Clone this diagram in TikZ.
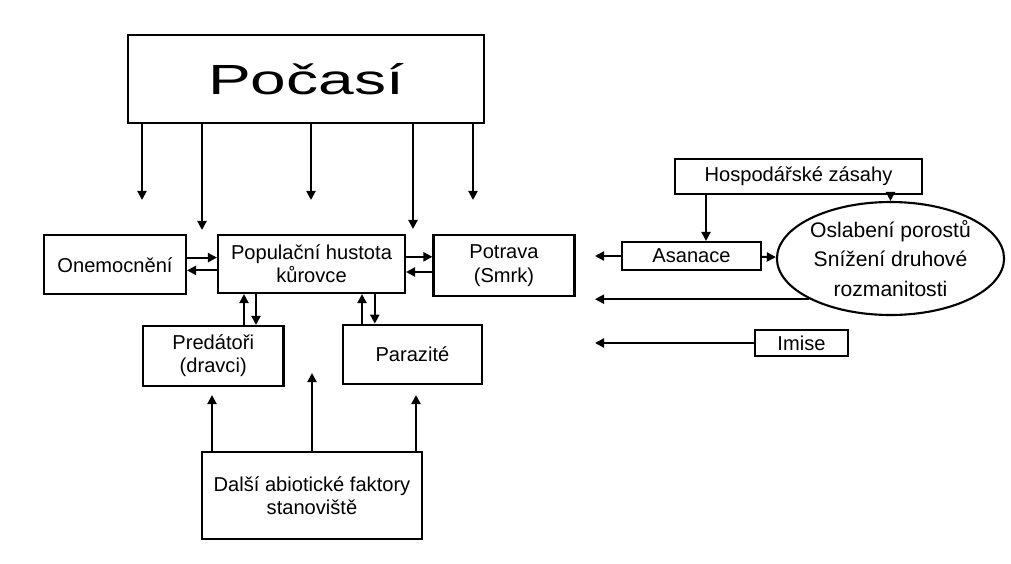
\documentclass[tikz,border=0pt]{standalone}
\usepackage{fontspec}
\setmainfont{Liberation Sans}
\usepackage{graphicx}
\usetikzlibrary{arrows.meta, positioning, calc, shapes.geometric}
\tikzset{
    % Base Block Style
    factor/.style={
        rectangle,
        draw=black,
        line width=1.5pt,
        align=center,
        inner sep=1pt,
        font=\fontsize{14.3}{16.5}\selectfont
    },
    % Ellipse Style
    effect/.style={
        ellipse,
        draw=black,
        line width=1.5pt,
        align=center,
        inner sep=0pt,
        font=\fontsize{15}{21}\selectfont
    },
    % Arrow Style
    arrow/.style={-{Triangle[length=6.5pt,width=6.5pt]}, line width=1.5pt}
}
\begin{document}
\begin{tikzpicture}

    \useasboundingbox (0,0) rectangle (25.275,-14.075);

    % --- WEATHER (Top) ---
    \node (pocasi) [factor, minimum width=8.9cm, minimum height=2.2cm] at (7.65,-1.975)
        {\fontsize{30}{34}\selectfont\scalebox{1.52}[1]{Počasí}};

    % --- MIDDLE ROW ---
    \node (onem) [factor, minimum width=3.55cm, minimum height=1.475cm] at (2.875,-6.62) {Onemocnění};
    \node (popul) [factor, minimum width=4.675cm, minimum height=1.45cm] at (7.7875,-6.6) {Populační hustota\\kůrovce};
    \node (potrava) [factor, minimum width=3.525cm, minimum height=1.515cm] at (12.6,-6.64) {Potrava\\(Smrk)};

    % --- ENEMIES ---
    \node (pred) [factor, minimum width=3.515cm, minimum height=1.5cm] at (5.33,-8.9) {Predátoři\\(dravci)};
    \node (paraz) [factor, minimum width=3.47cm, minimum height=1.485cm] at (10.31,-8.86) {Parazité};

    % --- SITE (Bottom) ---
    \node (dalsi) [factor, minimum width=5.5cm, minimum height=2.175cm] at (7.8,-12.3875) {Další abiotické faktory\\stanoviště};

    % --- MANAGEMENT (Right) ---
    \node (hosp) [factor, minimum width=6.175cm, minimum height=0.875cm] at (19.9625,-4.4125) {Hospodářské zásahy};
    \node (asan) [factor, minimum width=3.475cm, minimum height=0.7cm] at (17.2875,-6.4) {Asanace};
    \node (oslab) [effect, minimum width=5.325cm, minimum height=2.825cm] at (22.2625,-6.4625) {Oslabení porostů\\Snížení druhové\\rozmanitosti};
    \node (imise) [factor, minimum width=2.325cm, minimum height=0.65cm] at (20.0375,-8.575) {Imise};

    % --- Free arrow ends ---
    \coordinate (w1) at (3.55,-5.0);
    \coordinate (w2) at (5.05,-5.75);
    \coordinate (w3) at (7.775,-5.0);
    \coordinate (w4) at (10.325,-5.725);
    \coordinate (w5) at (11.825,-5.0);
    \coordinate (s1) at (5.3,-9.875);
    \coordinate (s2) at (7.8,-9.325);
    \coordinate (s3) at (10.4,-9.875);
    \coordinate (r1) at (14.875,-6.4);
    \coordinate (r3) at (14.875,-8.575);

    % --- Arrows from the weather ---
    \foreach \w in {w1,w2,w3,w4,w5}
        \draw [arrow] (pocasi.south -| \w) -- (\w);

    % --- Arrows from the site ---
    \foreach \s in {s1,s2,s3}
        \draw [arrow] (dalsi.north -| \s) -- (\s);

    % --- Feedback pairs ---
    \draw [arrow] ([yshift=1.8mm]onem.east) -- ([yshift=1.8mm]onem.east -| popul.west);
    \draw [arrow] ([yshift=-1.6mm]popul.west) -- ([yshift=-1.6mm]popul.west -| onem.east);
    \draw [arrow] ([yshift=1.8mm]popul.east) -- ([yshift=1.8mm]popul.east -| potrava.west);
    \draw [arrow] ([yshift=-1.6mm]potrava.west) -- ([yshift=-1.6mm]potrava.west -| popul.east);
    \draw [arrow] ([xshift=7.7mm]pred.north) -- ([xshift=7.7mm]pred.north |- popul.south);
    \draw [arrow] ([xshift=10.7mm]pred.north |- popul.south) -- ([xshift=10.7mm]pred.north);
    \draw [arrow] ([xshift=-12.6mm]paraz.north) -- ([xshift=-12.6mm]paraz.north |- popul.south);
    \draw [arrow] ([xshift=-9.4mm]paraz.north |- popul.south) -- ([xshift=-9.4mm]paraz.north);

    % --- Management arrows ---
    \draw [arrow] (hosp.south -| 17.65,0) -- (asan.north -| 17.65,0);
    \draw [arrow] (hosp.south -| oslab.north) -- (oslab.north);
    \draw [arrow] (asan) -- (oslab);
    \draw [arrow] (asan.west) -- (r1);
    \draw [arrow] (oslab.south west) -- (oslab.south west -| r1);
    \draw [arrow] (imise.west) -- (r3);

\end{tikzpicture}
\end{document}
